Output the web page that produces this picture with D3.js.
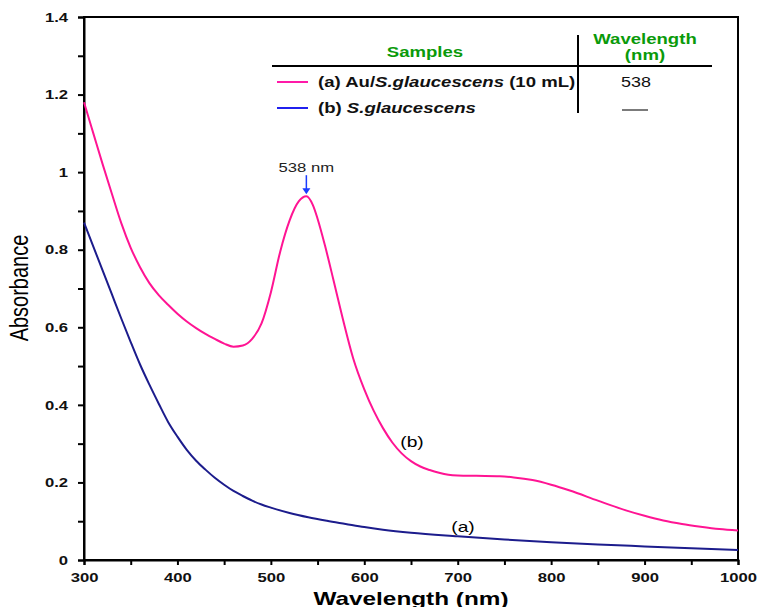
<!DOCTYPE html>
<html><head><meta charset="utf-8">
<script src="https://cdn.jsdelivr.net/npm/d3@7"></script>
<style>body{margin:0;background:#fff}svg{display:block;font-family:"Liberation Sans",Arial,sans-serif}</style>
</head><body><svg id="c" width="759" height="607"></svg>
<script>
const pinkWl = [300,310,320,330,340,350,360,370,380,390,400,410,420,430,440,450,460,470,480,490,500,510,520,530,538,545,550,558,567,577,588,600,610,620,630,640,650,660,670,680,690,700,720,745,760,780,800,820,850,880,900,920,940,960,980,1000];
const pinkAbs = [1.18,1.10,1.02,0.943,0.868,0.805,0.755,0.714,0.683,0.658,0.635,0.615,0.598,0.583,0.570,0.558,0.550,0.553,0.570,0.610,0.690,0.795,0.875,0.925,0.938,0.915,0.88,0.81,0.722,0.622,0.521,0.440,0.385,0.340,0.303,0.275,0.255,0.241,0.232,0.225,0.220,0.218,0.217,0.216,0.213,0.206,0.194,0.179,0.153,0.128,0.114,0.102,0.093,0.086,0.080,0.076];
const blueWl = [300,310,320,330,340,350,360,370,380,390,400,410,420,430,440,450,460,470,480,490,500,520,540,560,580,600,620,650,700,750,800,850,900,950,1000];
const blueAbs = [0.87,0.808,0.746,0.684,0.622,0.562,0.504,0.452,0.403,0.356,0.318,0.284,0.256,0.233,0.212,0.194,0.178,0.165,0.153,0.143,0.135,0.121,0.110,0.101,0.093,0.085,0.078,0.070,0.061,0.053,0.046,0.040,0.035,0.030,0.026];
const xTicks = [300,400,500,600,700,800,900,1000];
const yTicks = [0,0.2,0.4,0.6,0.8,1,1.2,1.4];
const peakWl = 538, peakAbs = 0.938;

const svg = d3.select("#c");
const x = d3.scaleLinear().domain([300,1000]).range([84,738]);
const y = d3.scaleLinear().domain([0,1.4]).range([560,17]);
const K = 1.28; // horizontal stretch of the reference's lettering

const pink = "#ff1493", navy = "#1c1c8c";

function stretch(sel){
  sel.each(function(){
    const n = this, L = n.getComputedTextLength();
    if (L > 0) d3.select(n).attr("textLength", L*K).attr("lengthAdjust","spacingAndGlyphs");
  });
}

// frame
svg.append("rect").attr("x",84).attr("y",17).attr("width",654).attr("height",543)
  .attr("fill","none").attr("stroke","#000").attr("stroke-width",2);

// axes
const xAxis = d3.axisBottom(x).tickValues(d3.range(300,1001,50)).tickSize(5)
  .tickFormat(d => xTicks.includes(d) ? d : "");
const gx = svg.append("g").attr("transform","translate(0,560)").call(xAxis);
const yAxis = d3.axisLeft(y).tickValues(d3.range(0,15).map(i=>i/10)).tickSize(6)
  .tickFormat(d => yTicks.some(t=>Math.abs(t-d)<1e-9) ? d3.format("~g")(d) : "");
const gy = svg.append("g").attr("transform","translate(84,0)").call(yAxis);
[gx,gy].forEach(g=>{
  g.select(".domain").attr("stroke-width",2);
  g.selectAll(".tick line").attr("stroke-width",2);
  g.selectAll("text").attr("font-size",13).attr("font-weight","bold").attr("fill","#111")
   .attr("font-family","'Liberation Sans',Arial,sans-serif");
});
gx.selectAll("text").attr("dy","1.05em");
gy.selectAll("text").attr("x",-16);
stretch(gx.selectAll("text"));
stretch(gy.selectAll("text"));

// axis titles
stretch(svg.append("text").attr("x",411).attr("y",605).attr("text-anchor","middle")
  .attr("font-size",19).attr("font-weight","bold").text("Wavelength (nm)"));
svg.append("text").attr("transform","translate(28,288) scale(1.28,1) rotate(-90)").attr("text-anchor","middle")
  .attr("font-size",20).text("Absorbance");

// curves
const line = d3.line().x(d=>x(d[0])).y(d=>y(d[1])).curve(d3.curveMonotoneX);
svg.append("path").datum(blueWl.map((w,i)=>[w,blueAbs[i]]))
  .attr("d",line).attr("fill","none").attr("stroke",navy).attr("stroke-width",2);
svg.append("path").datum(pinkWl.map((w,i)=>[w,pinkAbs[i]]))
  .attr("d",line).attr("fill","none").attr("stroke",pink).attr("stroke-width",2);

// peak annotation
const px = x(peakWl), py = y(peakAbs);
stretch(svg.append("text").attr("x",px).attr("y",py-24).attr("text-anchor","middle")
  .attr("font-size",13).attr("fill","#222").text(peakWl + " nm"));
svg.append("line").attr("x1",px).attr("x2",px).attr("y1",py-21).attr("y2",py-7)
  .attr("stroke","#1a3cff").attr("stroke-width",1.5);
svg.append("path").attr("d",`M${px-4},${py-8}L${px+4},${py-8}L${px},${py-2}Z`).attr("fill","#1a3cff");

// curve labels
stretch(svg.append("text").attr("x",412).attr("y",447).attr("text-anchor","middle").attr("font-size",15).text("(b)"));
stretch(svg.append("text").attr("x",463).attr("y",532).attr("text-anchor","middle").attr("font-size",15).text("(a)"));

// legend table
const lg = svg.append("g");
lg.append("line").attr("x1",272).attr("x2",712).attr("y1",66).attr("y2",66).attr("stroke","#000").attr("stroke-width",2);
lg.append("line").attr("x1",578).attr("x2",578).attr("y1",35).attr("y2",113).attr("stroke","#000").attr("stroke-width",2);
const green = "#0a9a0a";
stretch(lg.append("text").attr("x",425).attr("y",57).attr("text-anchor","middle").attr("font-size",14.5)
  .attr("font-weight","bold").attr("fill",green).text("Samples"));
stretch(lg.append("text").attr("x",645).attr("y",44).attr("text-anchor","middle").attr("font-size",14.5)
  .attr("font-weight","bold").attr("fill",green).text("Wavelength"));
stretch(lg.append("text").attr("x",645).attr("y",60).attr("text-anchor","middle").attr("font-size",14.5)
  .attr("font-weight","bold").attr("fill",green).text("(nm)"));

const rows = [
  {color:"#ff1aa8", y:82, parts:[["(a) Au/","normal"],["S.glaucescens","italic"],[" (10 mL)","normal"]], val:"538"},
  {color:"#2020ee", y:108, parts:[["(b) ","normal"],["S.glaucescens","italic"]], val:null}
];
rows.forEach(r=>{
  lg.append("line").attr("x1",277).attr("x2",308).attr("y1",r.y).attr("y2",r.y).attr("stroke",r.color).attr("stroke-width",2);
  const t = lg.append("text").attr("x",318).attr("y",r.y+5).attr("font-size",14.5).attr("font-weight","bold").attr("fill","#111");
  r.parts.forEach(p=>t.append("tspan").attr("font-style",p[1]).text(p[0]));
  stretch(t);
  if (r.val) stretch(lg.append("text").attr("x",636).attr("y",r.y+5).attr("text-anchor","middle").attr("font-size",14).attr("fill","#111").text(r.val));
  else lg.append("line").attr("x1",622).attr("x2",648).attr("y1",r.y+2).attr("y2",r.y+2).attr("stroke","#222").attr("stroke-width",1.2);
});
</script></body></html>
